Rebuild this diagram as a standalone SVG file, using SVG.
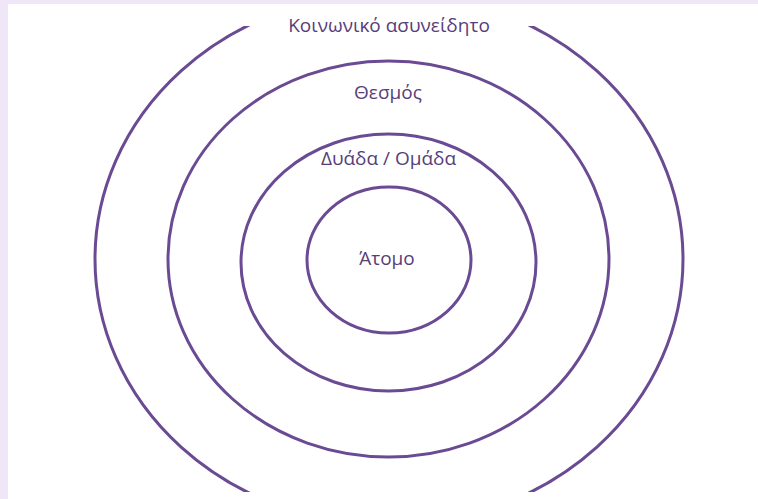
<svg xmlns="http://www.w3.org/2000/svg" width="758" height="499" viewBox="0 0 758 499">
  <style>
    .ring { fill: none; stroke: #6a4b93; stroke-width: 3; }
    .lbl { font-family: "Open Sans", "Noto Sans", "DejaVu Sans", sans-serif; font-size: 19px; fill: #573e78; text-anchor: middle; }
  </style>
  <defs>
    <clipPath id="outerClip">
      <rect x="0" y="26" width="758" height="466"/>
    </clipPath>
  </defs>
  <rect x="0" y="0" width="758" height="499" fill="#efe7f7"/>
  <rect x="8" y="4" width="750" height="495" fill="#ffffff"/>
  <g id="ring-social">
    <ellipse class="ring" cx="389" cy="259" rx="294" ry="266" clip-path="url(#outerClip)"/>
    <text class="lbl" x="389" y="32">Κοινωνικό ασυνείδητο</text>
  </g>
  <g id="ring-institution">
    <ellipse class="ring" cx="388.5" cy="259" rx="220.5" ry="198"/>
    <text class="lbl" x="388" y="99">Θεσμός</text>
  </g>
  <g id="ring-group">
    <ellipse class="ring" cx="388.5" cy="262.5" rx="147.5" ry="128.5"/>
    <text class="lbl" x="388.5" y="165">Δυάδα / Ομάδα</text>
  </g>
  <g id="ring-individual">
    <ellipse class="ring" cx="389" cy="260" rx="82" ry="73"/>
    <text class="lbl" x="387" y="265">Άτομο</text>
  </g>
  <g id="connectors"></g>
</svg>
